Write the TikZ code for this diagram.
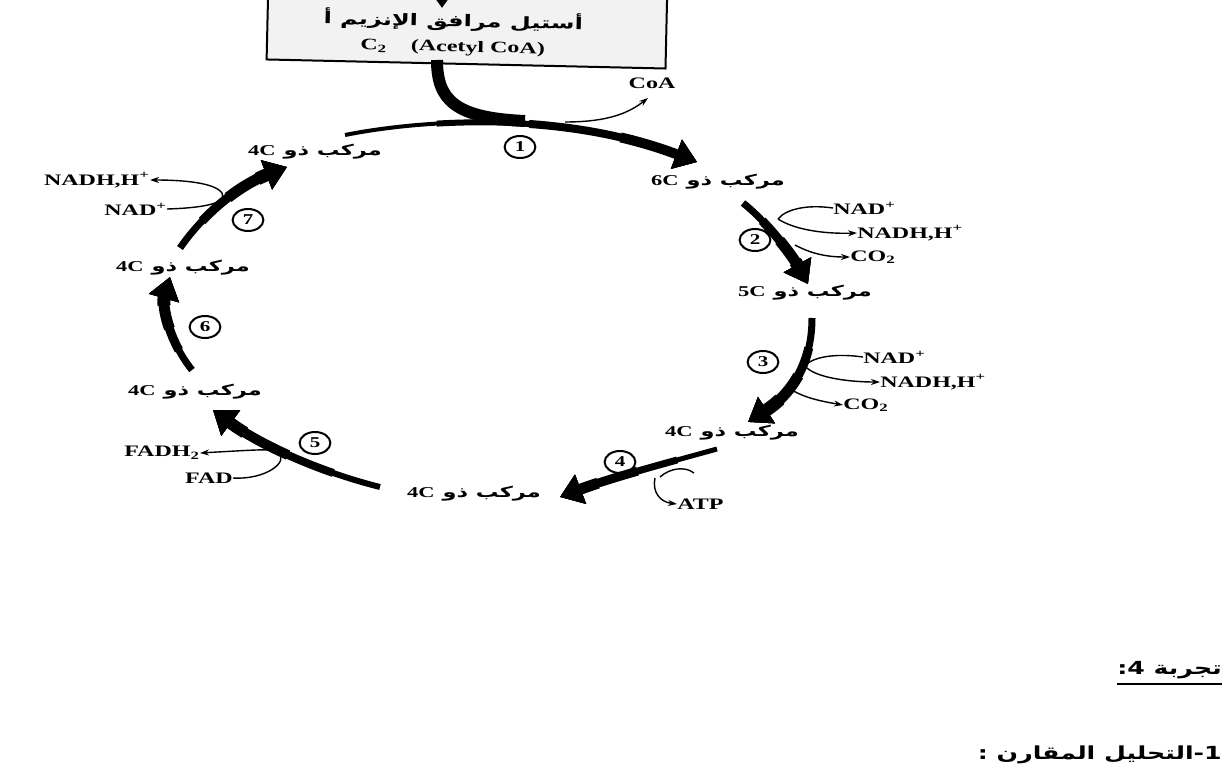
\documentclass[tikz,border=0pt]{standalone}
\usepackage{fontspec}
\setmainfont{Liberation Serif}
\newfontfamily\arabicfont[Script=Arabic]{DejaVu Sans}
\TeXXeTstate=1
\usetikzlibrary{arrows.meta}
\tikzset{>=Stealth}
\tikzset{
  cycle tip/.style={-{Triangle[length=22pt,width=30pt]}},
  side arrow/.style={line width=1.4pt,-{Stealth[length=9pt,width=6pt]}},
  side line/.style={line width=1.4pt},
  stage/.style={xscale=1.5,inner sep=0pt,font=\arabicfont\bfseries\fontsize{15}{17}\selectfont},
  molecule/.style={xscale=1.5,inner sep=0pt,font=\bfseries\fontsize{16}{18}\selectfont},
  step number/.style={circle,draw,line width=2pt,xscale=1.4,minimum size=22pt,inner sep=0pt,
    font=\bfseries\fontsize{15}{15}\selectfont},
  heading/.style={anchor=east,xscale=1.4,inner sep=0pt,font=\arabicfont\bfseries\fontsize{18}{20}\selectfont},
}
\newcommand{\stagetext}[1]{\beginR مركب ذو \beginL{\rmfamily #1}\endL\endR}
% thick arrow of the cycle, thin at its tail and wide at its tip
\newcommand{\cyclearrow}[6]{%
  \foreach \w/\f in {0/0,2/0.25,4/0.5,6/0.75}{
    \pgfmathsetmacro{\gap}{\f*#5}
    \pgfmathsetmacro{\lw}{#6+\w}
    \draw[cycle tip,line width=\lw,dash pattern=on 0pt off \gap pt on 2000pt]
      (#1) .. controls (#2) and (#3) .. (#4);
  }%
}

\begin{document}
\begin{tikzpicture}[x=1pt,y=-1pt]
  \useasboundingbox (0,0) rectangle (1226,784);

  % Acetyl CoA box
  \node[draw,line width=2pt,fill=gray!10,rotate=-1.3,minimum width=399pt,minimum height=84pt] (acetyl) at (467,22) {};
  \node[rotate=-1.3,xscale=1.5,align=center,font=\bfseries\fontsize{16}{25}\selectfont] (acetyl text) at (453,33)
    {{\arabicfont\beginR أستيل مرافق الإنزيم أ\endR}\\C\textsubscript{2}\quad(Acetyl CoA)};
  \coordinate (feed) at (442,-40);
  \coordinate (feed tip) at (442,8);
  \draw[cycle tip,line width=10] (feed) -- (feed tip);

  % Stages
  \node[stage] (s6C) at (718,182) {\stagetext{6C}};
  \node[stage] (s5C) at (805,293) {\stagetext{5C}};
  \node[stage] (s4Ca) at (732,433) {\stagetext{4C}};
  \node[stage] (s4Cb) at (474,494) {\stagetext{4C}};
  \node[stage] (s4Cc) at (195,392) {\stagetext{4C}};
  \node[stage] (s4Cd) at (183,268) {\stagetext{4C}};
  \node[stage] (s4Ce) at (315,152) {\stagetext{4C}};

  % Cycle arrows
  \coordinate (a1s) at (345,135);  \coordinate (a1e) at (697,162);
  \coordinate (a2s) at (743,203);  \coordinate (a2e) at (808,284);
  \coordinate (a3s) at (812,318);  \coordinate (a3e) at (748,422);
  \coordinate (a4s) at (717,449);  \coordinate (a4e) at (560,497);
  \coordinate (a5s) at (380,487);  \coordinate (a5e) at (213,410);
  \coordinate (a6s) at (192,370);  \coordinate (a6e) at (170,277);
  \coordinate (a7s) at (180,248);  \coordinate (a7e) at (287,167);
  \coordinate (stem) at (437,60);  \coordinate (join) at (525,121);
  \draw[line width=12] (stem) .. controls (437,100) and (455,118) .. (join);
  \cyclearrow{a1s}{420,120}{560,110}{a1e}{370}{4}
  \cyclearrow{a2s}{765,220}{792,255}{a2e}{105}{7}
  \cyclearrow{a3s}{812,365}{790,395}{a3e}{120}{7}
  \cyclearrow{a4s}{670,462}{610,478}{a4e}{165}{5}
  \cyclearrow{a5s}{320,472}{260,445}{a5e}{195}{6}
  \cyclearrow{a6s}{168,340}{162,305}{a6e}{95}{7}
  \cyclearrow{a7s}{205,212}{240,185}{a7e}{140}{7}

  % Step numbers
  \node[step number] (n1) at (520,147) {1};
  \node[step number] (n2) at (755,240) {2};
  \node[step number] (n3) at (763,362) {3};
  \node[step number] (n4) at (620,462) {4};
  \node[step number] (n5) at (315,443) {5};
  \node[step number] (n6) at (205,327) {6};
  \node[step number] (n7) at (248,220) {7};

  % Side products
  \node[molecule] (coa) at (652,83) {CoA};
  \coordinate (coa out) at (565,122);
  \draw[side arrow] (coa out) .. controls (610,122) and (630,112) .. (648,98);

  \node[molecule,anchor=west] (nad2) at (833,208) {NAD\textsuperscript{+}};
  \node[molecule,anchor=west] (nadh2) at (857,233) {NADH,H\textsuperscript{+}};
  \node[molecule,anchor=west] (co22) at (850,257) {CO\textsubscript{2}};
  \coordinate (turn2) at (778,219);
  \coordinate (co22 out) at (795,245);
  \draw[side line] (nad2.west) .. controls (805,204) and (785,210) .. (turn2);
  \draw[side arrow] (turn2) .. controls (795,230) and (825,234) .. (nadh2.west);
  \draw[side arrow] (co22 out) .. controls (810,253) and (825,257) .. (co22.west);

  \node[molecule,anchor=west] (nad3) at (863,357) {NAD\textsuperscript{+}};
  \node[molecule,anchor=west] (nadh3) at (880,382) {NADH,H\textsuperscript{+}};
  \node[molecule,anchor=west] (co23) at (843,405) {CO\textsubscript{2}};
  \coordinate (turn3) at (805,366);
  \coordinate (co23 out) at (790,389);
  \draw[side line] (nad3.west) .. controls (835,353) and (812,357) .. (turn3);
  \draw[side arrow] (turn3) .. controls (815,378) and (850,382) .. (nadh3.west);
  \draw[side arrow] (co23 out) .. controls (805,398) and (820,401) .. (co23.west);

  \node[molecule,anchor=west] (atp) at (677,504) {ATP};
  \coordinate (atp tail) at (694,473);
  \coordinate (atp in) at (655,478);
  \draw[side line] (atp tail) .. controls (685,466) and (670,468) .. (660,477);
  \draw[side arrow] (atp in) .. controls (652,492) and (660,502) .. (atp.west);

  \node[molecule,anchor=east] (fadh2) at (200,453) {FADH\textsubscript{2}};
  \node[molecule,anchor=east] (fad) at (233,478) {FAD};
  \draw[side arrow] (fad.east) .. controls (265,480) and (290,462) .. (278,452)
    .. controls (270,449) .. (fadh2.east);

  \node[molecule,anchor=east] (nadh7) at (150,180) {NADH,H\textsuperscript{+}};
  \node[molecule,anchor=east] (nad7) at (167,209) {NAD\textsuperscript{+}};
  \draw[side arrow] (nad7.east) .. controls (200,208) and (228,204) .. (222,193)
    .. controls (215,183) and (185,180) .. (nadh7.east);

  % Text below
  \node[heading] (exp) at (1222,670) {\mbox{4:}\ \mbox{تجربة}};
  \draw[line width=1.5pt] ([yshift=-5pt]exp.south west) -- ([yshift=-5pt]exp.south east);
  \node[heading] (analysis) at (1222,755)
    {\beginR\beginL1\endL\beginL-\endL التحليل المقارن :\endR};
\end{tikzpicture}
\end{document}
